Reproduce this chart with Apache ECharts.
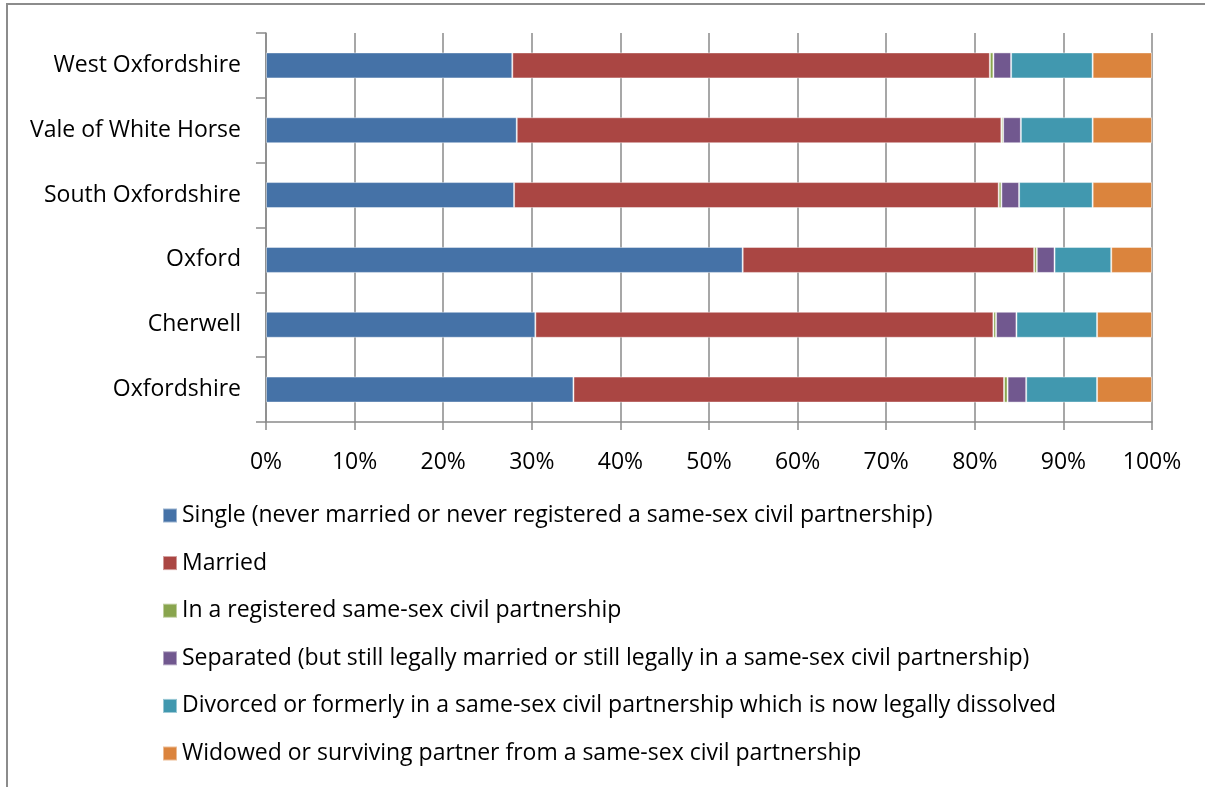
<!DOCTYPE html>
<html>
<head>
<meta charset="utf-8">
<script src="https://cdn.jsdelivr.net/npm/echarts@6/dist/echarts.min.js"></script>
<style>
  html, body { margin: 0; padding: 0; background: #fff; }
  #main { width: 1205px; height: 787px; }
</style>
</head>
<body>
<div id="main"></div>
<script>
// 地区（从下到上）
var categories = ['Oxfordshire', 'Cherwell', 'Oxford', 'South Oxfordshire', 'Vale of White Horse', 'West Oxfordshire'];
var seriesNames = [
  'Single (never married or never registered a same-sex civil partnership)',
  'Married',
  'In a registered same-sex civil partnership',
  'Separated (but still legally married or still legally in a same-sex civil partnership)',
  'Divorced or formerly in a same-sex civil partnership which is now legally dissolved',
  'Widowed or surviving partner from a same-sex civil partnership'
];
// 百分比数据
var single = [34.7, 30.4, 53.8, 28.0, 28.3, 27.8];
var married = [48.6, 51.7, 32.9, 54.7, 54.7, 53.9];
var civil = [0.4, 0.3, 0.3, 0.3, 0.2, 0.4];
var separated = [2.1, 2.3, 2.0, 2.0, 2.0, 2.0];
var divorced = [8.0, 9.1, 6.4, 8.3, 8.1, 9.2];
var widowed = [6.2, 6.2, 4.6, 6.7, 6.7, 6.7];
var xTicks = [0, 10, 20, 30, 40, 50, 60, 70, 80, 90, 100];

(function () {
  var myChart = echarts.init(document.getElementById('main'));
  var colors = ['#4572A7', '#AA4643', '#89A54E', '#71588F', '#4198AF', '#DB843D'];
  var allData = [single, married, civil, separated, divorced, widowed];
  var font = '"Open Sans", Lato, sans-serif';

  var series = seriesNames.map(function (name, i) {
    return {
      name: name,
      type: 'bar',
      stack: 'total',
      barWidth: 26,
      data: allData[i],
      itemStyle: {
        color: colors[i],
        borderColor: 'rgba(255,255,255,0.45)',
        borderWidth: 1
      }
    };
  });

  var option = {
    color: colors,
    animation: false,
    textStyle: { fontFamily: font },
    // 外框线
    graphic: [{
      type: 'rect',
      shape: { x: 7, y: 4, width: 1400, height: 1000 },
      style: { fill: 'none', stroke: '#8c8c8c', lineWidth: 2 },
      silent: true
    }],
    legend: {
      orient: 'vertical',
      left: 162,
      top: 504,
      padding: 0,
      itemWidth: 14,
      itemHeight: 14,
      itemGap: 24.6,
      selectedMode: false,
      icon: 'rect',
      textStyle: { color: '#000', fontSize: 23, fontFamily: font },
      data: seriesNames
    },
    grid: {
      left: 266,
      right: 53,
      top: 33,
      bottom: 365,
      containLabel: false
    },
    xAxis: {
      type: 'value',
      min: 0,
      max: 100,
      interval: 10,
      axisLine: { show: true, lineStyle: { color: '#8a8a8a', width: 1.5 } },
      axisTick: { show: true, length: 8, lineStyle: { color: '#8a8a8a', width: 1.5 } },
      splitLine: { show: true, lineStyle: { color: '#8a8a8a', width: 1.5 } },
      axisLabel: {
        color: '#000',
        fontSize: 23,
        fontFamily: font,
        margin: 29,
        formatter: function (v) { return xTicks.indexOf(v) >= 0 ? v + '%' : ''; }
      }
    },
    yAxis: {
      type: 'category',
      data: categories,
      axisLine: { show: true, lineStyle: { color: '#8a8a8a', width: 1.5 } },
      axisTick: { show: true, length: 10, lineStyle: { color: '#8a8a8a', width: 1.5 } },
      axisLabel: { color: '#000', fontSize: 23, fontFamily: font, margin: 25, padding: [4, 0, 0, 0] }
    },
    series: series
  };

  myChart.setOption(option);
  window.addEventListener('resize', function () {
    myChart.resize();
  });
})();
</script>
</body>
</html>
